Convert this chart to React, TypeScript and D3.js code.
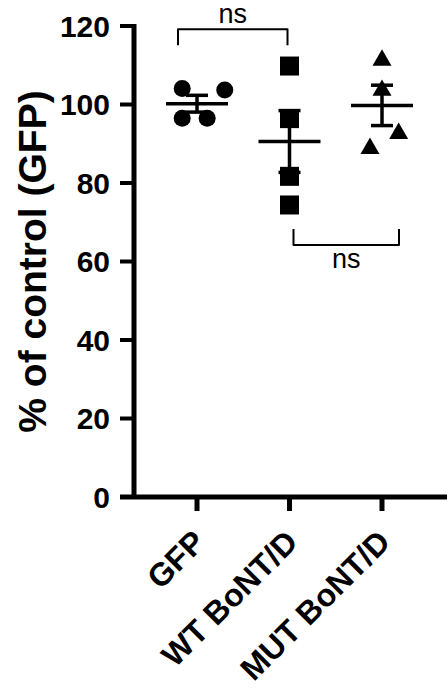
import React, { useEffect, useRef } from 'react';
import * as d3 from 'd3';

const groups = ['GFP', 'WT BoNT/D', 'MUT BoNT/D'];
const gfpValues = [104.1, 103.7, 96.5, 96.5];
const wtValues = [109.8, 96.4, 81.7, 74.4];
const mutValues = [112.0, 104.3, 93.3, 89.5];
// horizontal scatter of the points, as a fraction of the category step
const gfpJitter = [-0.16, 0.3, -0.16, 0.11];
const wtJitter = [0, 0, 0, 0];
const mutJitter = [0, 0, 0.18, -0.13];
const yTicks = [0, 20, 40, 60, 80, 100, 120];
const comparisons = [['GFP', 'WT BoNT/D'], ['WT BoNT/D', 'MUT BoNT/D']];
const comparisonLevels = [119.2, 64.2];
const comparisonLabels = ['ns', 'ns'];

const W = 447;
const H = 688;
const FONT = '"Liberation Sans", Arial, sans-serif';

const App = () => {
  const ref = useRef<SVGSVGElement | null>(null);

  useEffect(() => {
    const svg = d3.select(ref.current);
    svg.selectAll('*').remove();

    const x = d3.scalePoint<string>().domain(groups).range([197, 382]);
    const step = x.step();
    const y = d3.scaleLinear().domain([0, 120]).range([497, 26]);

    const axisX = 134;
    const axisY = y(0);

    // y axis
    svg.append('line')
      .attr('x1', axisX).attr('x2', axisX)
      .attr('y1', y(120) - 2).attr('y2', axisY)
      .attr('stroke', 'black').attr('stroke-width', 5);
    yTicks.forEach(t => {
      svg.append('line')
        .attr('x1', 120).attr('x2', axisX)
        .attr('y1', y(t)).attr('y2', y(t))
        .attr('stroke', 'black').attr('stroke-width', 4);
      svg.append('text')
        .attr('x', 110).attr('y', y(t)).attr('dy', '0.36em')
        .attr('text-anchor', 'end')
        .attr('font-family', FONT).attr('font-weight', 'bold').attr('font-size', 30)
        .text(t);
    });

    // x axis
    svg.append('line')
      .attr('x1', 120).attr('x2', W)
      .attr('y1', axisY).attr('y2', axisY)
      .attr('stroke', 'black').attr('stroke-width', 5);
    groups.forEach(g => {
      svg.append('line')
        .attr('x1', x(g)!).attr('x2', x(g)!)
        .attr('y1', axisY).attr('y2', axisY + 14)
        .attr('stroke', 'black').attr('stroke-width', 5);
      svg.append('text')
        .attr('transform', `translate(${x(g)! + 10},${544}) rotate(-45)`)
        .attr('text-anchor', 'end')
        .attr('font-family', FONT).attr('font-weight', 'bold').attr('font-size', 32)
        .text(g);
    });

    // y title
    svg.append('text')
      .attr('transform', `translate(46,${(y(0) + y(120)) / 2}) rotate(-90)`)
      .attr('text-anchor', 'middle')
      .attr('font-family', FONT).attr('font-weight', 'bold').attr('font-size', 39)
      .text('% of control (GFP)');

    const series = [
      { name: groups[0], values: gfpValues, jitter: gfpJitter, shape: 'circle' },
      { name: groups[1], values: wtValues, jitter: wtJitter, shape: 'square' },
      { name: groups[2], values: mutValues, jitter: mutJitter, shape: 'triangle' },
    ];

    const triSize = (Math.sqrt(3) / 4) * 19 * 19;
    const triH = (Math.sqrt(3) / 2) * 19;

    series.forEach(s => {
      const cx = x(s.name)!;
      s.values.forEach((v, i) => {
        const px = cx + s.jitter[i] * step;
        const py = y(v);
        if (s.shape === 'circle') {
          svg.append('circle').attr('cx', px).attr('cy', py).attr('r', 8.5).attr('fill', 'black');
        } else if (s.shape === 'square') {
          svg.append('rect').attr('x', px - 9.5).attr('y', py - 9.5)
            .attr('width', 19).attr('height', 19).attr('fill', 'black');
        } else {
          svg.append('path')
            .attr('d', d3.symbol().type(d3.symbolTriangle).size(triSize)()!)
            .attr('transform', `translate(${px},${py + triH / 6})`)
            .attr('fill', 'black');
        }
      });

      // mean and SEM
      const m = d3.mean(s.values)!;
      const sem = d3.deviation(s.values)! / Math.sqrt(s.values.length);
      const lineStyle = (sel: any) => sel.attr('stroke', 'black').attr('stroke-width', 3.5);
      svg.append('line').attr('x1', cx - 31).attr('x2', cx + 31)
        .attr('y1', y(m)).attr('y2', y(m)).call(lineStyle);
      svg.append('line').attr('x1', cx).attr('x2', cx)
        .attr('y1', y(m + sem)).attr('y2', y(m - sem)).call(lineStyle);
      [m + sem, m - sem].forEach(e => {
        svg.append('line').attr('x1', cx - 11).attr('x2', cx + 11)
          .attr('y1', y(e)).attr('y2', y(e)).call(lineStyle);
      });
    });

    // significance brackets
    const insets = [[-19, -2], [4, 17]];
    comparisons.forEach(([a, b], i) => {
      const x1 = x(a)! + insets[i][0];
      const x2 = x(b)! + insets[i][1];
      const yl = y(comparisonLevels[i]);
      const above = i === 0;
      const leg = above ? 16 : -16;
      svg.append('path')
        .attr('d', `M${x1},${yl + leg} L${x1},${yl} L${x2},${yl} L${x2},${yl + leg}`)
        .attr('fill', 'none').attr('stroke', 'black').attr('stroke-width', 2)
        .attr('stroke-linejoin', 'round');
      svg.append('text')
        .attr('x', (x1 + x2) / 2)
        .attr('y', above ? yl - 6 : yl + 23)
        .attr('text-anchor', 'middle')
        .attr('font-family', FONT).attr('font-size', 27)
        .text(comparisonLabels[i]);
    });
  }, []);

  return (
    <svg ref={ref} width={W} height={H}
      style={{ position: 'absolute', left: 0, top: 0, background: 'white' }} />
  );
};

export default App;
